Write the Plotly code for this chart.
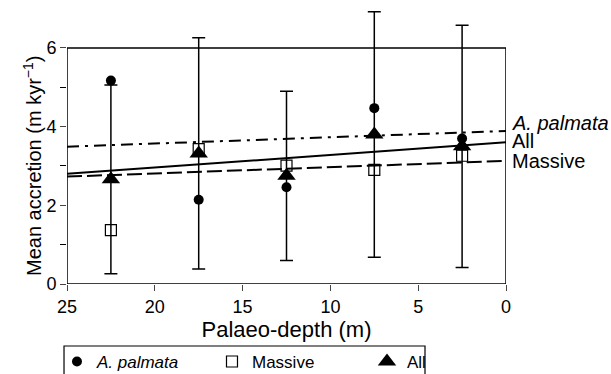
import plotly.graph_objects as go

depth = [22.5, 17.5, 12.5, 7.5, 2.5]
palmata = [5.17, 2.14, 2.46, 4.47, 3.70]
massive = [1.37, 3.43, 3.01, 2.90, 3.26]
all_mean = [2.66, 3.32, 2.75, 3.80, 3.50]
all_err = [2.40, 2.94, 2.15, 3.12, 3.08]

line_x = [25, 0]
palmata_fit = [3.49, 3.89]
all_fit = [2.80, 3.60]
massive_fit = [2.73, 3.13]

font = "Liberation Sans, Arial, sans-serif"
fig = go.Figure()

fig.add_trace(go.Scatter(x=line_x, y=palmata_fit, mode="lines", showlegend=False,
                         line=dict(color="black", width=2, dash="12px,6px,3px,6px")))
fig.add_trace(go.Scatter(x=line_x, y=all_fit, mode="lines", showlegend=False,
                         line=dict(color="black", width=2)))
fig.add_trace(go.Scatter(x=line_x, y=massive_fit, mode="lines", showlegend=False,
                         line=dict(color="black", width=2, dash="15px,5px")))

fig.add_trace(go.Scatter(x=depth, y=palmata, mode="markers", name="<i>A. palmata</i>",
                         marker=dict(symbol="circle", size=10, color="black"), cliponaxis=False))
fig.add_trace(go.Scatter(x=depth, y=massive, mode="markers", name="Massive",
                         marker=dict(symbol="square-open", size=11, color="black", line=dict(width=1.2)),
                         cliponaxis=False))
fig.add_trace(go.Scatter(x=depth, y=all_mean, mode="markers", name="All",
                         marker=dict(symbol="triangle-up", size=16, color="black"),
                         error_y=dict(type="data", array=all_err, visible=True, color="black",
                                      thickness=1.5, width=6.5),
                         cliponaxis=False))

labels = [("<i>A. palmata</i>", palmata_fit[1], 8), ("All", all_fit[1], 1), ("Massive", massive_fit[1], 0)]
for txt, yv, ys in labels:
    fig.add_annotation(x=0, y=yv, text=txt, showarrow=False, xanchor="left", yanchor="middle",
                       xshift=4, yshift=ys, font=dict(size=20, color="black", family=font))

# y-axis title (centred on the 0-6 frame)
fig.add_annotation(xref="paper", yref="y", x=-0.0774, y=3, text="Mean accretion (m kyr<sup>−1</sup>)",
                   textangle=-90, showarrow=False, xanchor="center", yanchor="middle",
                   font=dict(size=20, color="black", family=font))

# plot frame 0-6 and legend box
fig.add_shape(type="rect", xref="x", yref="y", x0=25, x1=0, y0=0, y1=6,
              line=dict(color="black", width=1.5), layer="above")
fig.add_shape(type="rect", xref="paper", yref="paper", x0=-0.0068, x1=0.8155, y0=-0.2255, y1=-0.37,
              line=dict(color="black", width=1.2))

fig.update_layout(
    width=611, height=374,
    margin=dict(l=67, r=105, t=9, b=90, autoexpand=False),
    paper_bgcolor="white", plot_bgcolor="white",
    font=dict(family=font, size=18, color="black"),
    showlegend=True,
    legend=dict(orientation="h", x=-0.0228, y=-0.218, xanchor="left", yanchor="top",
                borderwidth=0, entrywidth=110, entrywidthmode="pixels",
                font=dict(size=17), itemclick=False, bgcolor="rgba(0,0,0,0)"),
    xaxis=dict(range=[25, 0], tickvals=[25, 20, 15, 10, 5, 0], ticks="outside", ticklen=6,
               showline=False, showgrid=False, zeroline=False,
               title=dict(text="Palaeo-depth (m)", standoff=4)),
    yaxis=dict(range=[0, 6.99], tickvals=[0, 2, 4, 6], ticks="outside", ticklen=6,
               minor=dict(tickvals=[1, 3, 5], ticks="outside", ticklen=6, tickcolor="black"),
               showline=False, showgrid=False, zeroline=False),
)

fig.write_html("out.html")
